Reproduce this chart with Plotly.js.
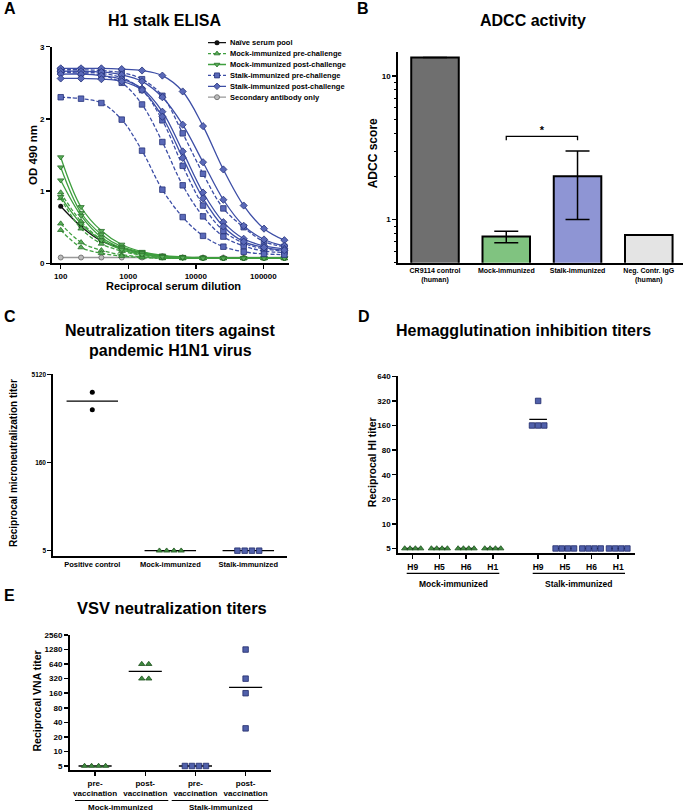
<!DOCTYPE html>
<html>
<head>
<meta charset="utf-8">
<script src="https://cdn.plot.ly/plotly-3.0.1.min.js"></script>
<style>
  html, body { margin: 0; padding: 0; background: #fff; }
  #fig { width: 685px; height: 811px; }
</style>
</head>
<body>
<div id="fig"></div>
<script>
// ---- Panel A: H1 stalk ELISA ----
const dilutions = [100, 200, 400, 800, 1600, 3200, 6400, 12800, 25600, 51200, 102400, 204800];
const naivePool = [0.79, 0.51, 0.31, 0.21, 0.14, 0.10, 0.08, 0.07, 0.07, 0.07, 0.07, 0.07];
const mockPre = [
    [0.98, 0.58, 0.33, 0.20, 0.13, 0.09, 0.08, 0.07, 0.07, 0.07, 0.07, 0.07],
    [0.90, 0.48, 0.27, 0.17, 0.11, 0.08, 0.07, 0.07, 0.07, 0.07, 0.07, 0.07],
    [0.55, 0.29, 0.18, 0.12, 0.09, 0.07, 0.07, 0.07, 0.07, 0.07, 0.07, 0.07],
    [0.46, 0.22, 0.14, 0.10, 0.08, 0.07, 0.07, 0.07, 0.07, 0.07, 0.07, 0.07]
];
const mockPost = [
    [1.47, 0.78, 0.45, 0.26, 0.16, 0.11, 0.09, 0.08, 0.07, 0.07, 0.07, 0.07],
    [1.33, 0.70, 0.40, 0.23, 0.15, 0.10, 0.08, 0.08, 0.07, 0.07, 0.07, 0.07],
    [1.15, 0.66, 0.36, 0.21, 0.14, 0.10, 0.08, 0.07, 0.07, 0.07, 0.07, 0.07],
    [0.92, 0.55, 0.32, 0.19, 0.12, 0.09, 0.08, 0.07, 0.07, 0.07, 0.07, 0.07]
];
const stalkPre = [
    [2.68, 2.68, 2.67, 2.64, 2.55, 2.32, 1.80, 1.24, 0.76, 0.50, 0.30, 0.23],
    [2.66, 2.65, 2.63, 2.57, 2.40, 1.98, 1.35, 0.80, 0.45, 0.28, 0.20, 0.17],
    [2.65, 2.63, 2.60, 2.50, 2.20, 1.68, 1.08, 0.65, 0.37, 0.24, 0.17, 0.15],
    [2.30, 2.28, 2.22, 1.99, 1.56, 1.02, 0.64, 0.38, 0.23, 0.16, 0.13, 0.12]
];
const stalkPost = [
    [2.70, 2.70, 2.70, 2.69, 2.67, 2.60, 2.38, 1.90, 1.30, 0.80, 0.48, 0.32],
    [2.66, 2.66, 2.65, 2.61, 2.52, 2.30, 1.92, 1.40, 0.88, 0.52, 0.33, 0.24],
    [2.62, 2.62, 2.60, 2.55, 2.42, 2.10, 1.55, 0.98, 0.57, 0.34, 0.24, 0.20],
    [2.56, 2.56, 2.55, 2.52, 2.40, 2.03, 1.46, 0.90, 0.51, 0.30, 0.22, 0.18]
];
const secondaryOnly = [0.08, 0.08, 0.08, 0.08, 0.08, 0.08, 0.08, 0.08, 0.08, 0.08, 0.08, 0.08];
const legendNames = ['Naïve serum pool', 'Mock-immunized pre-challenge', 'Mock-immunized post-challenge',
    'Stalk-immunized pre-challenge', 'Stalk-immunized post-challenge', 'Secondary antibody only'];

// ---- Panel B: ADCC activity ----
const adccGroups = ['CR9114 control<br>(human)', 'Mock-immunized', 'Stalk-immunized', 'Neg. Contr. IgG<br>(human)'];
const adccScore = [13.5, 0.76, 2.0, 0.78];
const adccUpper = [null, 0.83, 3.0, null];
const adccLower = [null, 0.69, 1.0, null];

// ---- Panel C: microneutralization ----
const mnGroups = ['Positive control', 'Mock-immunized', 'Stalk-immunized'];
const mnPositive = [2560, 1280];
const mnMock = [5, 5, 5, 5];
const mnStalk = [5, 5, 5, 5];

// ---- Panel D: HI titers ----
const hiSubtypes = ['H9', 'H5', 'H6', 'H1'];
const hiMock = [[5, 5, 5, 5], [5, 5, 5, 5], [5, 5, 5, 5], [5, 5, 5, 5]];
const hiStalk = [[320, 160, 160, 160], [5, 5, 5, 5], [5, 5, 5, 5], [5, 5, 5, 5]];

// ---- Panel E: VSV neutralization ----
const vnaLabels = ['pre-<br>vaccination', 'post-<br>vaccination', 'pre-<br>vaccination', 'post-<br>vaccination'];
const vnaMockPre = [5, 5, 5, 5];
const vnaMockPost = [640, 640, 320, 320];
const vnaStalkPre = [5, 5, 5, 5];
const vnaStalkPost = [1280, 320, 160, 30];

const FONT = '"Liberation Sans", Arial, Helvetica, sans-serif';
const W = 685, H = 811;
const GREEN = '#3f9f3f', BLUE = '#3d4ea6';
const px = x => x / W;
const py = y => 1 - y / H;

const triStyle = { symbol: 'triangle-up', size: 5.5, color: '#3f8a3f', line: { color: '#1a4f1a', width: 0.8 } };
const sqStyle = { symbol: 'square', size: 5.5, color: '#5060aa', line: { color: '#1f2a6a', width: 0.8 } };
const dotStyle = { symbol: 'circle', size: 5, color: 'black' };

function axStyle(extra) {
    return Object.assign({
        showline: true, linecolor: 'black', linewidth: 2,
        ticks: 'outside', ticklen: 4, tickwidth: 1.5, tickcolor: 'black',
        showgrid: false, zeroline: false, fixedrange: true,
        tickfont: { family: FONT, size: 8, color: 'black', weight: 'bold' }
    }, extra);
}

function label(text, x, y, size, opts) {
    return Object.assign({
        text: text, x: px(x), y: py(y), xref: 'paper', yref: 'paper', showarrow: false,
        xanchor: 'center', yanchor: 'middle',
        font: { family: FONT, size: size, color: 'black', weight: 'bold' }
    }, opts || {});
}

// spread tied values sideways so every point shows
function spread(values, center, step) {
    const counts = {}, seen = {};
    values.forEach(v => counts[v] = (counts[v] || 0) + 1);
    return values.map(v => {
        const j = seen[v] || 0;
        seen[v] = j + 1;
        return center + (j - (counts[v] - 1) / 2) * step;
    });
}

function geoMean(values) {
    return Math.exp(values.reduce((s, v) => s + Math.log(v), 0) / values.length);
}

function dotTraces(values, center, step, style, xa, ya) {
    const m = geoMean(values);
    return [
        { type: 'scatter', mode: 'lines', x: [center - 0.33, center + 0.33], y: [m, m], xaxis: xa, yaxis: ya,
          line: { color: 'black', width: 1.3 }, hoverinfo: 'skip' },
        { type: 'scatter', mode: 'markers', x: spread(values, center, step), y: values, xaxis: xa, yaxis: ya,
          marker: style, cliponaxis: false }
    ];
}

const traces = [];

// Panel A curves
const elisaSets = [
    { rows: [naivePool], color: '#111', dash: 'solid', marker: { symbol: 'circle', size: 5, color: '#111' } },
    { rows: mockPre, color: GREEN, dash: '4px,2px', marker: { symbol: 'triangle-up', size: 5.5, color: '#5aae5a', line: { color: '#2a6e2a', width: 0.8 } } },
    { rows: mockPost, color: GREEN, dash: 'solid', marker: { symbol: 'triangle-down', size: 5.5, color: '#5aae5a', line: { color: '#2a6e2a', width: 0.8 } } },
    { rows: stalkPre, color: BLUE, dash: '4px,2px', marker: { symbol: 'square', size: 5.5, color: '#5a69b8', line: { color: '#26327a', width: 0.8 } } },
    { rows: stalkPost, color: BLUE, dash: 'solid', marker: { symbol: 'diamond', size: 5.5, color: '#5a69b8', line: { color: '#26327a', width: 0.8 } } },
    { rows: [secondaryOnly], color: '#999', dash: 'solid', marker: { symbol: 'circle', size: 5, color: '#bbb', line: { color: '#666', width: 0.8 } } }
];
// draw grey and green first, blue on top
[5, 0, 1, 2, 3, 4].forEach(k => {
    const s = elisaSets[k];
    s.rows.forEach(row => {
        traces.push({
            type: 'scatter', mode: 'lines+markers', x: dilutions, y: row, xaxis: 'x', yaxis: 'y',
            line: { color: s.color, width: 1.3, dash: s.dash, shape: 'spline', smoothing: 1 },
            marker: s.marker, cliponaxis: false
        });
    });
});

// Panel A legend (small subplot so rows can sit close together)
elisaSets.forEach((s, i) => {
    traces.push({ type: 'scatter', mode: 'lines', x: [0, 1], y: [5 - i, 5 - i], xaxis: 'x6', yaxis: 'y6',
        line: { color: s.color, width: 1.3, dash: s.dash === 'solid' ? 'solid' : '3px,2px' } });
    traces.push({ type: 'scatter', mode: 'markers', x: [0.5], y: [5 - i], xaxis: 'x6', yaxis: 'y6',
        marker: Object.assign({}, s.marker, { size: 5 }) });
});

// Panel B bars
const barColors = ['#6f6f6f', '#80c380', '#8e95d4', '#e4e4e4'];
traces.push({
    type: 'bar', x: [0, 1, 2, 3], y: adccScore, xaxis: 'x2', yaxis: 'y2', width: 0.667,
    marker: { color: barColors, line: { color: 'black', width: 2 } },
    error_y: {
        type: 'data', symmetric: false,
        array: adccScore.map((v, i) => adccUpper[i] === null ? null : adccUpper[i] - v),
        arrayminus: adccScore.map((v, i) => adccLower[i] === null ? null : v - adccLower[i]),
        color: 'black', thickness: 1.5, width: 12
    }
});
const sigY = 3.8;
traces.push({ type: 'scatter', mode: 'lines', x: [1, 1, 2, 2], y: [sigY * 0.94, sigY, sigY, sigY * 0.94],
    xaxis: 'x2', yaxis: 'y2', line: { color: 'black', width: 1.3 } });
traces.push({ type: 'scatter', mode: 'text', x: [1.5], y: [sigY], text: ['*'], textposition: 'top center',
    xaxis: 'x2', yaxis: 'y2', textfont: { family: FONT, size: 11, color: 'black', weight: 'bold' } });

// Panel C
traces.push(...dotTraces(mnPositive, 0, 0.093, dotStyle, 'x3', 'y3'));
traces.push(...dotTraces(mnMock, 1, 0.093, triStyle, 'x3', 'y3'));
traces.push(...dotTraces(mnStalk, 2, 0.093, sqStyle, 'x3', 'y3'));

// Panel D
const stalkOffset = 4.7;
hiSubtypes.forEach((h, i) => {
    traces.push(...dotTraces(hiMock[i], i, 0.2, triStyle, 'x4', 'y4'));
    traces.push(...dotTraces(hiStalk[i], i + stalkOffset, 0.23, sqStyle, 'x4', 'y4'));
});

// Panel E
traces.push(...dotTraces(vnaMockPre, 0, 0.14, triStyle, 'x5', 'y5'));
traces.push(...dotTraces(vnaMockPost, 1, 0.14, triStyle, 'x5', 'y5'));
traces.push(...dotTraces(vnaStalkPre, 2, 0.14, sqStyle, 'x5', 'y5'));
traces.push(...dotTraces(vnaStalkPost, 3, 0.14, sqStyle, 'x5', 'y5'));

const lg = Math.log10;
const hiTicks = hiSubtypes.map((h, i) => i).concat(hiSubtypes.map((h, i) => i + stalkOffset));

const layout = {
    width: W, height: H, margin: { l: 0, r: 0, t: 0, b: 0 },
    paper_bgcolor: 'white', plot_bgcolor: 'white', showlegend: false,
    font: { family: FONT, color: 'black' },

    xaxis: axStyle({ domain: [px(52), px(289)], anchor: 'y', type: 'log', range: [1.871, 5.38],
        tickvals: [100, 1000, 10000, 100000], ticktext: ['100', '1000', '10000', '100000'] }),
    yaxis: axStyle({ domain: [py(263.3), py(46.7)], anchor: 'x', range: [0, 3], tickvals: [0, 1, 2, 3] }),

    xaxis2: axStyle({ domain: [px(398.3), px(683)], anchor: 'y2', range: [-0.515, 3.48], ticks: '',
        tickvals: [0, 1, 2, 3], ticktext: adccGroups, tickfont: { family: FONT, size: 7, color: 'black', weight: 'bold' } }),
    yaxis2: axStyle({ domain: [py(262.7), py(51.7)], anchor: 'x2', type: 'log', range: [lg(0.5), 1.17],
        tickvals: [1, 10], ticktext: ['1', '10'],
        minor: { ticks: 'outside', ticklen: 2.5, tickwidth: 1, tickcolor: 'black',
            tickvals: [0.5, 0.6, 0.7, 0.8, 0.9, 2, 3, 4, 5, 6, 7, 8, 9] } }),

    xaxis3: axStyle({ domain: [px(53.3), px(287.3)], anchor: 'y3', range: [-0.5, 2.5], ticks: '',
        tickvals: [0, 1, 2], ticktext: mnGroups, tickfont: { family: FONT, size: 7.5, color: 'black', weight: 'bold' } }),
    yaxis3: axStyle({ domain: [py(556), py(374)], anchor: 'x3', type: 'log', range: [0.608, 3.72],
        tickvals: [5, 160, 5120], ticktext: ['5', '160', '5120'], tickfont: { family: FONT, size: 6.5, color: 'black', weight: 'bold' } }),

    xaxis4: axStyle({ domain: [px(398.3), px(635)], anchor: 'y4', range: [-0.54, 8.33],
        tickvals: hiTicks, ticktext: hiSubtypes.concat(hiSubtypes), tickfont: { family: FONT, size: 8.5, color: 'black', weight: 'bold' } }),
    yaxis4: axStyle({ domain: [py(553.3), py(376)], anchor: 'x4', type: 'log', range: [0.64, 2.81],
        tickvals: [5, 10, 20, 40, 80, 160, 320, 640] }),

    xaxis5: axStyle({ domain: [px(70), px(270.7)], anchor: 'y5', range: [-0.5, 3.5],
        tickvals: [0, 1, 2, 3], ticktext: vnaLabels }),
    yaxis5: axStyle({ domain: [py(770), py(635)], anchor: 'x5', type: 'log', range: [0.616, 3.408],
        tickvals: [5, 10, 20, 40, 80, 160, 320, 640, 1280, 2560] }),

    xaxis6: { domain: [px(208), px(226)], anchor: 'y6', range: [0, 1], visible: false, fixedrange: true },
    yaxis6: { domain: [py(102.65), py(37.25)], anchor: 'x6', range: [-0.5, 5.5], visible: false, fixedrange: true },

    shapes: [
        // group underlines in D and E
        { type: 'line', xref: 'paper', yref: 'paper', x0: px(406.7), x1: px(499.3), y0: py(573.3), y1: py(573.3), line: { color: 'black', width: 1.2 } },
        { type: 'line', xref: 'paper', yref: 'paper', x0: px(532.7), x1: px(625), y0: py(573.3), y1: py(573.3), line: { color: 'black', width: 1.2 } },
        { type: 'line', xref: 'paper', yref: 'paper', x0: px(75), x1: px(168.3), y0: py(800.5), y1: py(800.5), line: { color: 'black', width: 1.2 } },
        { type: 'line', xref: 'paper', yref: 'paper', x0: px(171.7), x1: px(268.3), y0: py(800.5), y1: py(800.5), line: { color: 'black', width: 1.2 } }
    ],

    annotations: [
        label('A', 2, 8.5, 16, { xanchor: 'left' }),
        label('B', 355, 8.5, 16, { xanchor: 'left' }),
        label('C', 2, 316, 16, { xanchor: 'left' }),
        label('D', 356, 317, 16, { xanchor: 'left' }),
        label('E', 2, 595, 16, { xanchor: 'left' }),

        label('H1 stalk ELISA', 164.3, 20.3, 16),
        label('ADCC activity', 533.3, 20.8, 16),
        label('Neutralization titers against', 170, 330, 16),
        label('pandemic H1N1 virus', 170, 350, 16),
        label('Hemagglutination inhibition titers', 523, 330, 16),
        label('VSV neutralization titers', 172, 608, 16.5),

        label('OD 490 nm', 33, 155, 11.5, { textangle: -90 }),
        label('Reciprocal serum dilution', 173.3, 286, 11),
        label('ADCC score', 373, 153.3, 12, { textangle: -90 }),
        label('Reciprocal microneutralization titer', 13, 463, 10, { textangle: -90 }),
        label('Reciprocal HI titer', 371.7, 462.5, 10.5, { textangle: -90 }),
        label('Reciprocal VNA titer', 36.7, 700.8, 10.5, { textangle: -90 }),

        label('Mock-immunized', 453, 584, 8.5),
        label('Stalk-immunized', 579, 584, 8.5),
        label('Mock-immunized', 120.7, 807.3, 8),
        label('Stalk-immunized', 220.8, 807.3, 8)
    ].concat(legendNames.map((name, i) => ({
        text: name, x: px(228.3), y: 5 - i, xref: 'paper', yref: 'y6', showarrow: false,
        xanchor: 'left', yanchor: 'middle',
        font: { family: FONT, size: 7.5, color: 'black', weight: 'bold' }
    })))
};

Plotly.newPlot('fig', traces, layout, { staticPlot: true, displayModeBar: false });
</script>
</body>
</html>
